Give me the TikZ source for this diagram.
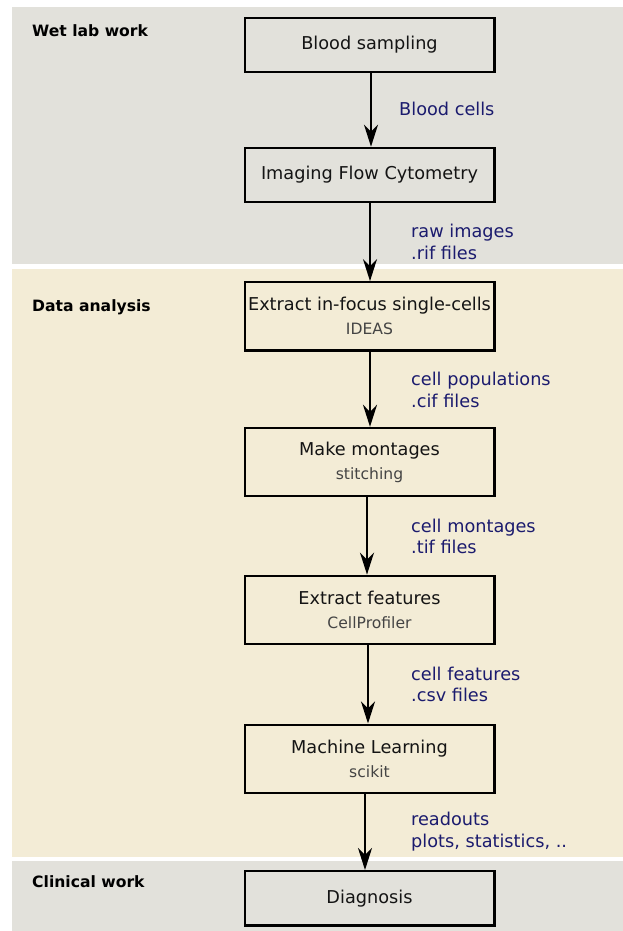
\documentclass[tikz,border=0pt]{standalone}
\usepackage{fontspec}
\setmainfont{DejaVu Sans}
\usetikzlibrary{arrows.meta}
\definecolor{wetbg}{RGB}{226,225,219}
\definecolor{databg}{RGB}{243,236,214}
\definecolor{lblblue}{RGB}{27,27,110}
\definecolor{subgray}{RGB}{68,68,68}
\definecolor{titleblack}{RGB}{20,20,20}
\tikzset{
 stepbox/.style={draw=black, line width=2.2pt, minimum width=249.8pt, inner sep=0pt, align=center, font=\fontsize{17.7}{24}\selectfont, text=titleblack},
 onebox/.style={stepbox, minimum height=54.4pt},
 twobox/.style={stepbox, minimum height=68.2pt},
 flowlabel/.style={anchor=west, inner sep=0pt, align=left, text=lblblue, font=\fontsize{17.7}{21.5}\selectfont},
 sectionlabel/.style={anchor=base west, inner sep=0pt, font=\fontsize{15.6}{19}\selectfont\bfseries, text=black},
 flow/.style={-{Stealth[length=22pt,width=14pt,inset=7pt]}, line width=2.2pt},
}
\newcommand{\subt}[1]{{\fontsize{15.6}{24}\selectfont\color{subgray}#1}}
\begin{document}
\begin{tikzpicture}[x=1pt,y=-1pt]
\useasboundingbox (0,0) rectangle (623,931);
\fill[white] (0,0) rectangle (623,931);
% panels
\fill[wetbg] (12,7) rectangle (623,264);
\fill[databg] (12,269) rectangle (623,857);
\fill[wetbg] (12,861) rectangle (623,931);
% section labels
\node[sectionlabel] (s1) at (32,36.7) {Wet lab work};
\node[sectionlabel] (s2) at (32,311.5) {Data analysis};
\node[sectionlabel] (s3) at (32,887.3) {Clinical work};
% boxes
\node[onebox] (blood) at (369.5,45) {Blood sampling};
\node[onebox] (ifc) at (369.5,175) {Imaging Flow Cytometry};
\node[twobox] (focus) at (369.5,316.3) {Extract in-focus single-cells\\\subt{IDEAS}};
\node[twobox] (mont) at (369.5,462) {Make montages\\\subt{stitching}};
\node[twobox] (feat) at (369.5,609.8) {Extract features\\\subt{CellProfiler}};
\node[twobox] (ml) at (369.5,758.7) {Machine Learning\\\subt{scikit}};
\node[onebox] (diag) at (369.5,898.3) {Diagnosis};
% connectors
\draw[flow] ([xshift=1.5pt]blood.south) -- ([xshift=1.5pt]ifc.north);
\draw[flow] ([xshift=0.5pt]ifc.south) -- ([xshift=0.5pt]focus.north);
\draw[flow] ([xshift=0.5pt]focus.south) -- ([xshift=0.5pt]mont.north);
\draw[flow] ([xshift=-2.5pt]mont.south) -- ([xshift=-2.5pt]feat.north);
\draw[flow] ([xshift=-1.5pt]feat.south) -- ([xshift=-1.5pt]ml.north);
\draw[flow] ([xshift=-4.5pt]ml.south) -- ([xshift=-4.5pt]diag.north);
% connector labels
\node[flowlabel] (l1) at (399,109.3) {Blood cells};
\node[flowlabel] (l2) at (411,241.8) {raw images\\.rif files};
\node[flowlabel] (l3) at (411,389.8) {cell populations\\.cif files};
\node[flowlabel] (l4) at (411,536.4) {cell montages\\.tif files};
\node[flowlabel] (l5) at (411,684.3) {cell features\\.csv files};
\node[flowlabel] (l6) at (411,831.6) {readouts\\plots, statistics, ..};
\end{tikzpicture}
\end{document}
